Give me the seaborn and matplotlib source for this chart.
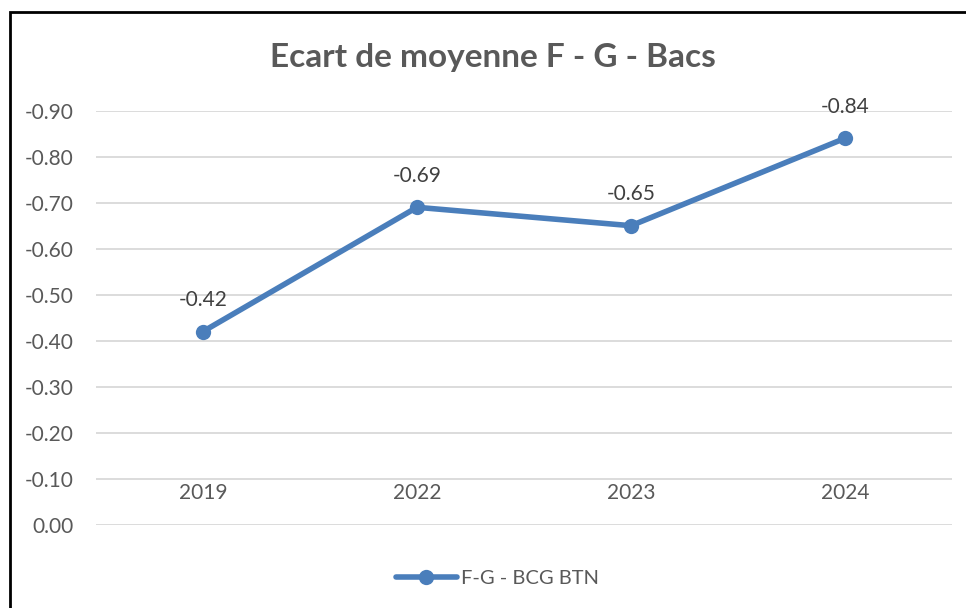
import pandas as pd
import matplotlib.pyplot as plt
import matplotlib.patches as patches
import seaborn as sns

years = ["2019", "2022", "2023", "2024"]
ecart = [-0.42, -0.69, -0.65, -0.84]
serie = "F-G - BCG BTN"
y_ticks = [0.0, -0.1, -0.2, -0.3, -0.4, -0.5, -0.6, -0.7, -0.8, -0.9]

df = pd.DataFrame({"annee": years, "ecart": ecart, "serie": serie})

sns.set_style("white")
plt.rcParams['font.family'] = ['Lato', 'DejaVu Sans']
gris = "#595959"
bleu = "#4A7EBB"

fig = plt.figure(figsize=(9.66, 6.08), dpi=100)
ax = fig.add_axes([96/966, 83.3/608, 856/966, 414/608])

sns.lineplot(data=df, x="annee", y="ecart", hue="serie", palette=[bleu],
             marker="o", markersize=11, markeredgewidth=0, linewidth=4,
             sort=False, ax=ax)

ax.set_xlim(-0.5, len(years) - 0.5)
ax.set_ylim(0, -0.9)
ax.set_yticks(y_ticks)
ax.set_yticklabels([f"{abs(v):.2f}" if v == 0 else f"{v:.2f}" for v in y_ticks],
                   fontsize=15, color=gris)
ax.tick_params(axis="y", length=0, pad=16)
ax.set_xticks([])
ax.set_xlabel("")
ax.set_ylabel("")
ax.grid(axis="y", color="#d9d9d9", linewidth=1.3)
ax.set_axisbelow(True)
for s in ax.spines.values():
    s.set_visible(False)

# etiquettes des categories (au-dessus de l'axe, comme Excel)
for i, yr in enumerate(years):
    ax.annotate(yr, (i, 0), xytext=(0, 22.5), textcoords="offset points",
                ha="center", va="center", fontsize=15, color=gris)

# etiquettes de donnees
for i, v in enumerate(ecart):
    ax.annotate(f"{v:.2f}", (i, v), xytext=(0, 22.5), textcoords="offset points",
                ha="center", va="center", fontsize=15, color="#404040")

fig.text(0.51, 1 - 57/608, "Ecart de moyenne F - G - Bacs", ha="center", va="center",
         fontsize=24, fontweight="bold", color=gris)

ax.legend(loc="center", bbox_to_anchor=(0.515, 30/608), bbox_transform=fig.transFigure,
          frameon=False, fontsize=14.5, labelcolor=gris, handlelength=3.0,
          handletextpad=0.2)

# cadre du graphique
fig.patches.append(patches.Rectangle((10/966, -0.1), 1.1, 1.1 - 12/608,
                                     transform=fig.transFigure, fill=False,
                                     edgecolor="black", linewidth=2))

plt.savefig("out.png", dpi=100)
